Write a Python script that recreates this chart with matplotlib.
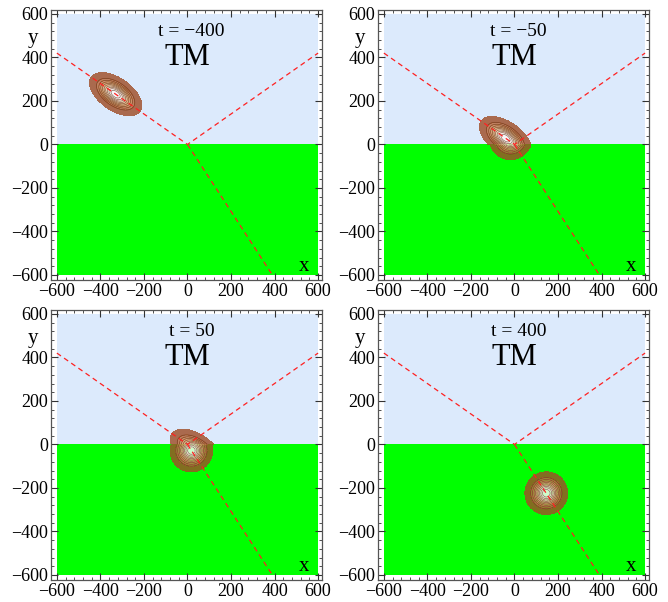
import numpy as np
import matplotlib
matplotlib.use("Agg")
import matplotlib.pyplot as plt
from matplotlib.colors import LinearSegmentedColormap
from matplotlib.ticker import MultipleLocator

# ---- data ----
times = [-400, -50, 50, 400]
panel_labels = ["t = \u2212400", "t = \u221250", "t = 50", "t = 400"]
mode_label = "TM"

# incident packet centres (shown in y > 0)
inc_cx = [-330, -41, 41, 328]
inc_cy = [231, 29, -29, -230]
inc_axes = [137, 74]          # semi-axes of outer contour (along, across)
inc_angle = -35               # degrees

# transmitted packet centres (shown in y < 0)
tr_cx = [-220, -18, 18, 146]
tr_cy = [336, 28, -28, -224]
tr_axes = [98, 98]
tr_angle = -57

# ray lines
ray_x = [-600, 0, 600]
ray_y = [420, 0, 420]
refr_x = [0, 390]
refr_y = [0, -600]

region_x = [-600, 600]
upper_y = [0, 600]
lower_y = [-600, 0]

ticks = [-600, -400, -200, 0, 200, 400, 600]

# ---- style ----
plt.rcParams['font.family'] = ['Liberation Serif', 'DejaVu Serif']
LIGHTBLUE = "#dceafc"
GREEN = "#00ff00"
cmap = LinearSegmentedColormap.from_list(
    "beam", ["#93401d", "#a8562f", "#c47446", "#d9945e", "#e8b27c",
             "#f1cba0", "#f8e2c8", "#fdf3ea", "#ffffff"])

fig = plt.figure(figsize=(6.68, 6.02), dpi=100)
W, H = 668, 602
boxes = [(51, 10), (378, 10), (51, 310), (378, 310)]
bw, bh = 271, 270

g = np.linspace(-600, 600, 481)
X, Y = np.meshgrid(g, g)


def packet(cx, cy, axes, angle):
    th = np.deg2rad(angle)
    u = (X - cx) * np.cos(th) + (Y - cy) * np.sin(th)
    v = -(X - cx) * np.sin(th) + (Y - cy) * np.cos(th)
    r2 = (u / axes[0]) ** 2 + (v / axes[1]) ** 2
    return np.exp(-3.0 * r2)


levels = np.concatenate([[np.exp(-3.0)], np.linspace(0.2, 1.0, 10)])

for i, (l, t) in enumerate(boxes):
    ax = fig.add_axes([l / W, 1 - (t + bh) / H, bw / W, bh / H])
    ax.set_xlim(-627, 618)
    ax.set_ylim(-623, 618)
    ax.fill_between(region_x, upper_y[0], upper_y[1], color=LIGHTBLUE, lw=0, zorder=0)
    ax.fill_between(region_x, lower_y[0], lower_y[1], color=GREEN, lw=0, zorder=0)

    up = packet(inc_cx[i], inc_cy[i], inc_axes, inc_angle)
    up = np.where(Y >= 0, up, np.nan)
    lo = packet(tr_cx[i], tr_cy[i], tr_axes, tr_angle)
    lo = np.where(Y < 0, lo, np.nan)
    for F in (up, lo):
        if np.nanmax(F) > levels[0]:
            ax.contourf(X, Y, F, levels=levels, cmap=cmap, alpha=0.82, zorder=1)
            ax.contour(X, Y, F, levels=levels[1:], colors="#5a2e18", linewidths=0.5,
                       alpha=0.7, zorder=1)

    ax.plot(ray_x, ray_y, color="#ff2020", lw=0.9, dashes=(4, 3), zorder=2)
    ax.plot(refr_x, refr_y, color="#ff2020", lw=0.9, dashes=(4, 3), zorder=2)

    ax.text(18, 520, panel_labels[i], ha='center', va='center', fontsize=14)
    ax.text(0, 400, mode_label, ha='center', va='center', fontsize=22)
    ax.text(-0.068, 0.895, "y", transform=ax.transAxes, ha='center', va='center',
            fontsize=15)
    ax.text(0.935, 0.05, "x", transform=ax.transAxes, ha='center', va='center',
            fontsize=15)

    ax.set_xticks(ticks)
    ax.set_yticks(ticks)
    ax.set_xticklabels([f"\u2212{-v}" if v < 0 else str(v) for v in ticks])
    ax.set_yticklabels([f"\u2212{-v}" if v < 0 else str(v) for v in ticks])
    ax.xaxis.set_minor_locator(MultipleLocator(40))
    ax.yaxis.set_minor_locator(MultipleLocator(40))
    ax.tick_params(which='both', direction='in', top=True, right=True,
                   colors="#333333", labelcolor="black", labelsize=13)
    ax.tick_params(which='major', length=5, width=0.8, pad=2)
    ax.tick_params(which='minor', length=2.5, width=0.6)
    for s in ax.spines.values():
        s.set_color("#555555")
        s.set_linewidth(0.9)

fig.savefig("out.png", dpi=100)
